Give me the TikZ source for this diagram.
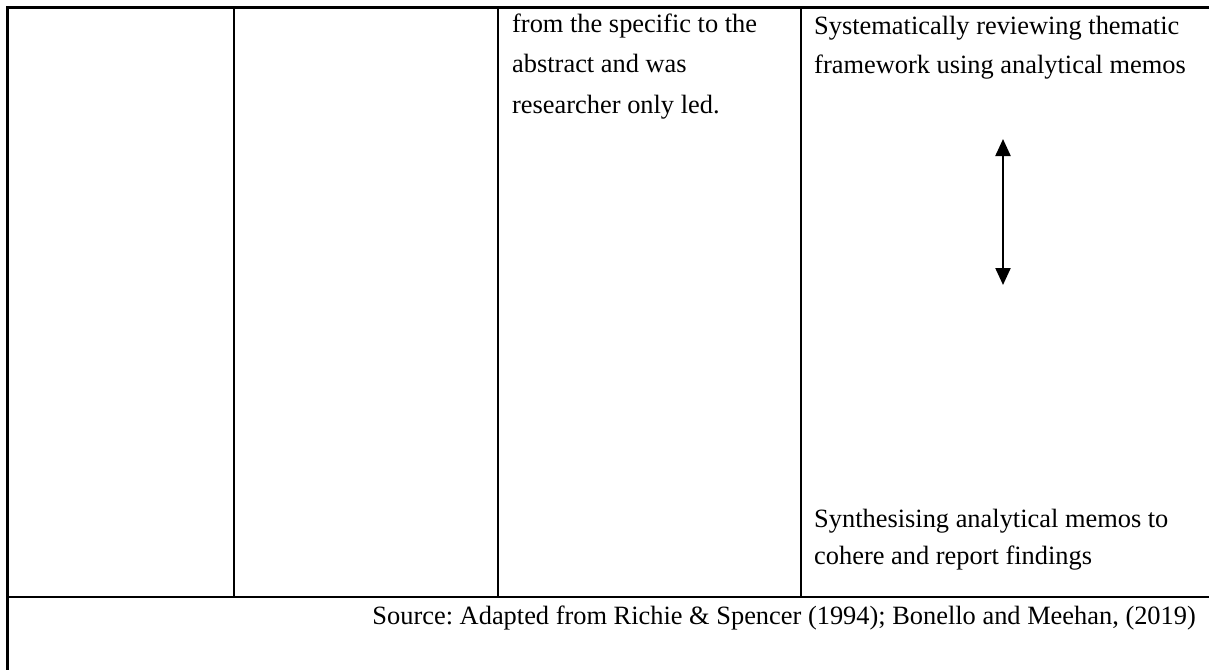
\documentclass[tikz,border=0pt]{standalone}
\usepackage{fontspec}
\setmainfont{Liberation Serif}
\usetikzlibrary{arrows.meta}
\frenchspacing
% cell text: 26.4px serif
\newcommand\celltext{\fontsize{26.4}{39}\selectfont}
\begin{document}
\begin{tikzpicture}[x=1pt,y=-1pt,
  rule/.style={line width=2.6pt, line cap=rect},
  cell/.style={anchor=base west, inner sep=0pt, execute at begin node=\celltext},
  link/.style={line width=2.2pt, {Triangle[width=15pt,length=17pt]}-{Triangle[width=15pt,length=17pt]}}]
\useasboundingbox (0,0) rectangle (1209,669);
% table rules
\draw[rule] (1209,7.5) -- (7.5,7.5) -- (7.5,669);
\draw[rule] (7.5,597) -- (1209,597);
\draw[rule] (234,7.5) -- (234,597);
\draw[rule] (498,7.5) -- (498,597);
\draw[rule] (801,7.5) -- (801,597);
% third column
\node[cell] (c3a) at (512,33) {from the specific to the};
\node[cell] (c3b) at (512,73) {abstract and was};
\node[cell] (c3c) at (512,113) {researcher only led.};
% fourth column
\node[cell] (c4a) at (814,35) {Systematically reviewing thematic};
\node[cell] (c4b) at (814,74) {framework using analytical memos};
\coordinate (up) at (1003,139);
\coordinate (down) at (1003,285);
\draw[link] (up) -- (down);
\node[cell] (c4c) at (814,527) {Synthesising analytical memos to};
\node[cell] (c4d) at (814,564) {cohere and report findings};
% source line
\node[cell, anchor=base east] (src) at (1196,624) {Source: Adapted from Richie \& Spencer (1994); Bonello and Meehan, (2019)};
\end{tikzpicture}
\end{document}
